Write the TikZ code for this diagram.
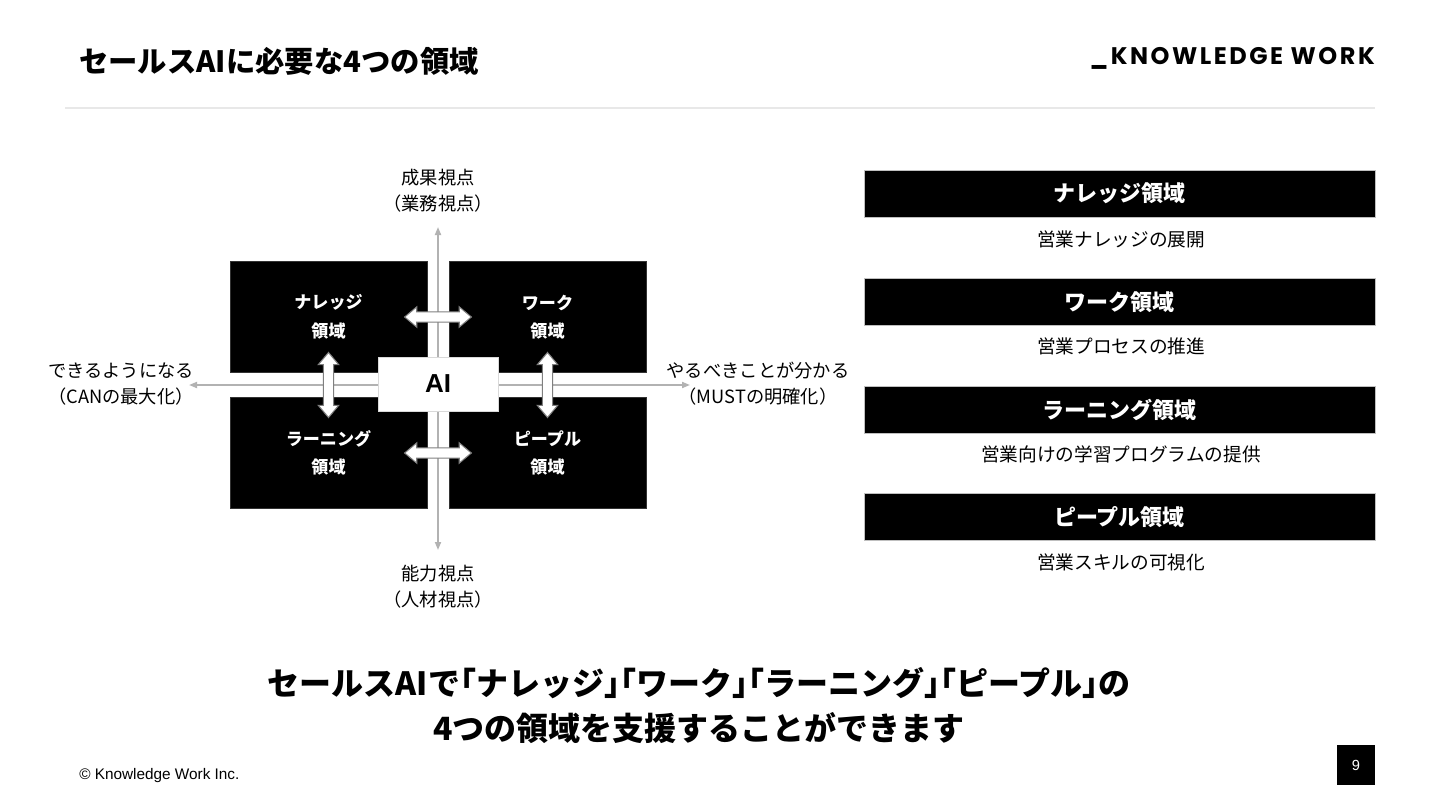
\documentclass[tikz,border=0pt]{standalone}
\usepackage{fontspec}
\setmainfont{Noto Sans CJK JP}
\newfontfamily\halffont{Noto Sans CJK JP}[RawFeature=+halt]
\newfontfamily\arialfont{Liberation Sans}
\newfontfamily\logofont{Poppins}[LetterSpace=10.5]
\usepackage{tikz}
\usetikzlibrary{arrows.meta,positioning,shapes.arrows,calc}
\definecolor{axisgray}{RGB}{178,178,178}
\definecolor{rulegray}{RGB}{232,232,232}
\definecolor{linkgray}{RGB}{128,128,128}
\newcommand\hbr[1]{{\halffont\bfseries #1}}
\tikzset{
  titletext/.style={font=\fontsize{22}{26}\selectfont\bfseries,inner sep=0pt},
  logotext/.style={font=\logofont\fontsize{18}{20}\selectfont\bfseries,inner sep=0pt},
  quadbox/.style={fill=black,draw=black!80,minimum width=147.75pt,minimum height=83.25pt,
    align=center,text=white,font=\fontsize{12.8}{21.5}\selectfont\bfseries},
  aibox/.style={fill=white,draw=black!15,minimum width=90pt,minimum height=40.5pt,
    font=\arialfont\fontsize{19.5}{22}\selectfont\bfseries},
  axisline/.style={{Triangle[length=6pt,width=4.5pt]}-{Triangle[length=6pt,width=4.5pt]},line width=1.3pt,draw=axisgray},
  axislabel/.style={align=center,font=\fontsize{13.7}{19.5}\selectfont,inner sep=1pt},
  linkarrow/.style={double arrow,draw=linkgray,fill=white,line width=0.8pt,inner xsep=0pt,inner ysep=3.4pt,
    minimum height=50pt,double arrow head extend=3.8pt,double arrow tip angle=80},
  barbox/.style={fill=black,draw=black!25,minimum width=383.25pt,minimum height=35.25pt,
    text=white,font=\fontsize{16.5}{18}\selectfont\bfseries},
  desctext/.style={font=\fontsize{14}{16}\selectfont,inner sep=0pt}
}
\begin{document}
\begin{tikzpicture}[x=0.75pt,y=-0.75pt]
  \useasboundingbox[fill=white] (0,0) rectangle (1440,810);
  % header
  \node[titletext,anchor=west] (title) at (79,61) {セールスAIに必要な4つの領域};
  \node[logotext,anchor=east] (logo) at (1375,58) {\_KNOWLEDGE WORK};
  \draw[rulegray,line width=1.5pt] (65,108) -- (1375,108);

  % axes
  \coordinate (axisN) at (438,227);
  \coordinate (axisS) at (438,550);
  \coordinate (axisW) at (189,385);
  \coordinate (axisE) at (690,385);
  \draw[axisline] (axisS) -- (axisN);
  \draw[axisline] (axisW) -- (axisE);
  \node[axislabel] (lblN) at (438,191) {成果視点\\（業務視点）};
  \node[axislabel] (lblS) at (438,587) {能力視点\\（人材視点）};
  \node[axislabel] (lblW) at (121,384) {できるようになる\\（CANの最大化）};
  \node[axislabel] (lblE) at (758,384) {やるべきことが分かる\\（MUSTの明確化）};

  % quadrants
  \node[quadbox] (knowledge) at (328.5,317) {ナレッジ\\領域};
  \node[quadbox] (work) at (547.5,317) {ワーク\\領域};
  \node[quadbox] (learning) at (328.5,453) {ラーニング\\領域};
  \node[quadbox] (people) at (547.5,453) {ピープル\\領域};
  \node[aibox] (ai) at (438,384) {AI};

  % links between quadrants
  \node[linkarrow] (linkKW) at ($(knowledge.east)!0.5!(work.west)$) {};
  \node[linkarrow] (linkLP) at ($(learning.east)!0.5!(people.west)$) {};
  \node[linkarrow,rotate=90,minimum height=48.75pt] (linkKL) at ($(knowledge.south)!0.5!(learning.north)$) {};
  \node[linkarrow,rotate=90,minimum height=48.75pt] (linkWP) at ($(work.south)!0.5!(people.north)$) {};

  % right panel
  \node[barbox] (barK) at (1119.5,193.5) {ナレッジ領域};
  \node[desctext] (descK) at (1121,239) {営業ナレッジの展開};
  \node[barbox] (barW) at (1119.5,302) {ワーク領域};
  \node[desctext] (descW) at (1121,346) {営業プロセスの推進};
  \node[barbox] (barL) at (1119.5,410) {ラーニング領域};
  \node[desctext] (descL) at (1121,454) {営業向けの学習プログラムの提供};
  \node[barbox] (barP) at (1119.5,517) {ピープル領域};
  \node[desctext] (descP) at (1121,562) {営業スキルの可視化};

  % message
  \node[align=center,font=\fontsize{24}{33.75}\selectfont\bfseries] (message) at (699,706)
    {セールスAIで\hbr{「}ナレッジ\hbr{」}\hbr{「}ワーク\hbr{」}\hbr{「}ラーニング\hbr{」}\hbr{「}ピープル\hbr{」}の\\4つの領域を支援することができます};

  % footer
  \node[anchor=west,inner sep=0pt,font=\arialfont\fontsize{11.5}{13}\selectfont] (copy) at (79,776) {© Knowledge Work Inc.};
  \node[fill=black,minimum width=28.5pt,minimum height=30pt,text=white,
    font=\arialfont\fontsize{11}{13}\selectfont] (page) at (1356,765) {9};
\end{tikzpicture}
\end{document}
